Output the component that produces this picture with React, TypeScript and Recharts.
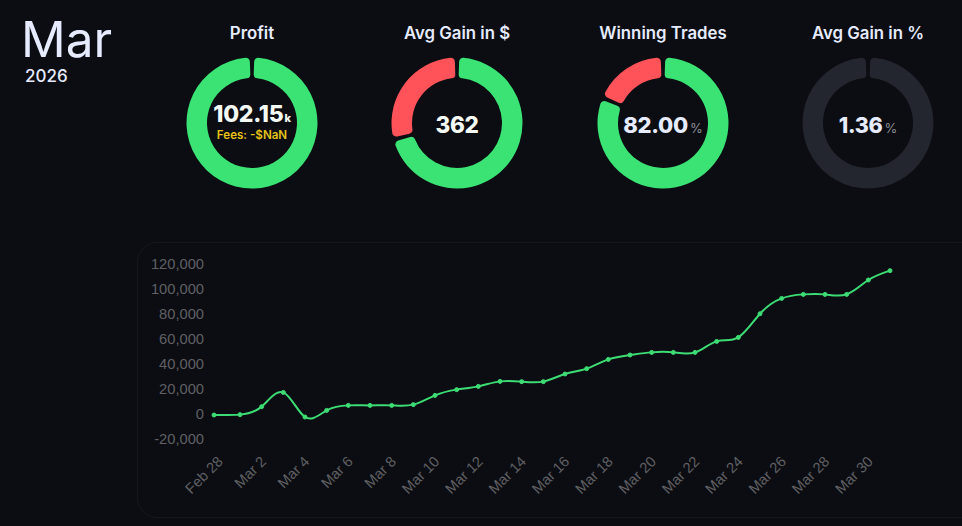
import { PieChart, Pie, Cell, LineChart, Line, XAxis, YAxis } from "recharts";

const GREEN = "#3ae374";
const RED = "#ff5359";
const MUTED = "#23252f";
const TEXT = "#e6ebff";
const AXIS = "#606064";

const dayLabels = [
  "Feb 28", "Mar 1", "Mar 2", "Mar 3", "Mar 4", "Mar 5", "Mar 6", "Mar 7",
  "Mar 8", "Mar 9", "Mar 10", "Mar 11", "Mar 12", "Mar 13", "Mar 14", "Mar 15",
  "Mar 16", "Mar 17", "Mar 18", "Mar 19", "Mar 20", "Mar 21", "Mar 22", "Mar 23",
  "Mar 24", "Mar 25", "Mar 26", "Mar 27", "Mar 28", "Mar 29", "Mar 30", "Mar 31",
];
// first sample sits a little before the Feb 28 tick
const dayOffsets = [
  -0.2, 1, 2, 3, 4, 5, 6, 7, 8, 9, 10, 11, 12, 13, 14, 15,
  16, 17, 18, 19, 20, 21, 22, 23, 24, 25, 26, 27, 28, 29, 30, 31,
];
const cumulative = [
  -800, -500, 5900, 17300, -2400, 2900, 6900, 6900, 6900, 7500, 14900, 19500,
  22100, 26100, 25900, 25900, 32000, 36300, 43700, 47200, 49300, 49300, 49300,
  58100, 61300, 80200, 92500, 95700, 95700, 95700, 107200, 114700,
];
const yTicks = [-20000, 0, 20000, 40000, 60000, 80000, 100000, 120000];
const xTicks = [0, 2, 4, 6, 8, 10, 12, 14, 16, 18, 20, 22, 24, 26, 28, 30];

const profitSplit = [100];
const avgGainSplit = [71.4, 28.6];
const winningSplit = [82, 18];
const avgPctSplit = [100];

const chartData = dayOffsets.map((day, i) => ({ day, value: cumulative[i] }));

function Donut({ title, left, values, colors, children }: any) {
  const rows = values.map((value: number) => ({ value }));
  // recharts drops paddingAngle on a single slice, so leave the gap by hand
  const endAngle = rows.length === 1 ? -268 : -272;
  return (
    <div style={{ position: "absolute", left: left - 100, top: 0, width: 200, height: 200 }}>
      <div
        style={{
          position: "absolute", top: 23, width: 200, textAlign: "center",
          fontSize: 16.8, fontWeight: 600, color: TEXT, lineHeight: "20px",
        }}
      >
        {title}
      </div>
      <div style={{ position: "absolute", left: 30, top: 53 }}>
        <PieChart width={140} height={140} margin={{ top: 0, right: 0, bottom: 0, left: 0 }}>
          <Pie
            data={rows}
            dataKey="value"
            cx={70}
            cy={70}
            innerRadius={45}
            outerRadius={65.5}
            startAngle={88}
            endAngle={endAngle}
            paddingAngle={4}
            cornerRadius={4}
            stroke="none"
            isAnimationActive={false}
          >
            {rows.map((_: any, i: number) => (
              <Cell key={i} fill={colors[i]} />
            ))}
          </Pie>
        </PieChart>
      </div>
      {children}
    </div>
  );
}

function Center({ value, unit, color, top = 111, size = 22.5 }: any) {
  return (
    <div
      style={{
        position: "absolute", top, width: 200, textAlign: "center", lineHeight: "28px",
        fontSize: size, letterSpacing: -0.3, fontWeight: 800, color, whiteSpace: "nowrap",
      }}
    >
      {value}
      {unit}
    </div>
  );
}

const percentUnit = (
  <span style={{ fontSize: 13, fontWeight: 400, letterSpacing: 0, marginLeft: 2, color: "#8b8d96" }}>%</span>
);

export default function App() {
  return (
    <div
      style={{
        position: "absolute", left: 0, top: 0, width: 962, height: 526, overflow: "hidden",
        background: "#0b0d12", fontFamily: "Inter, sans-serif",
      }}
    >
      <style>{`body{margin:0;background:#0b0d12}`}</style>

      <div style={{ position: "absolute", left: 21, top: 14, fontSize: 49.5, fontWeight: 400, lineHeight: "50px", color: TEXT }}>
        Mar
      </div>
      <div style={{ position: "absolute", left: 25, top: 65, fontSize: 17, fontWeight: 500, lineHeight: "22px", color: TEXT }}>
        2026
      </div>

      <Donut title="Profit" left={252} values={profitSplit} colors={[GREEN]}>
        <Center
          value="102.15"
          unit={<span style={{ fontSize: 11, marginLeft: 1, color: "#f4f9f4" }}>k</span>}
          color="#f4f9f4"
          top={100}
          size={23}
        />
        <div
          style={{
            position: "absolute", top: 128, width: 200, textAlign: "center",
            fontSize: 11.6, fontWeight: 600, lineHeight: "14px", color: "#e6c317",
          }}
        >
          Fees: -$NaN
        </div>
      </Donut>

      <Donut title="Avg Gain in $" left={457} values={avgGainSplit} colors={[GREEN, RED]}>
        <Center value="362" color="#f4f9f4" />
      </Donut>

      <Donut title="Winning Trades" left={663} values={winningSplit} colors={[GREEN, RED]}>
        <Center value="82.00" unit={percentUnit} color={TEXT} size={22} />
      </Donut>

      <Donut title="Avg Gain in %" left={868} values={avgPctSplit} colors={[MUTED]}>
        <Center value="1.36" unit={percentUnit} color={TEXT} size={21.5} />
      </Donut>

      <div
        style={{
          position: "absolute", left: 137, top: 242, width: 860, height: 276,
          border: "1px solid #16181d", borderRadius: 20, boxSizing: "border-box",
        }}
      />
      <div style={{ position: "absolute", left: 137, top: 242 }}>
        <LineChart
          width={825}
          height={276}
          data={chartData}
          margin={{ top: 22, right: 72, bottom: 0, left: 0 }}
        >
          <XAxis
            dataKey="day"
            type="number"
            domain={[-0.2, 31]}
            ticks={xTicks}
            interval={0}
            tickFormatter={(d: number) => dayLabels[d]}
            axisLine={false}
            tickLine={false}
            tickSize={0}
            tickMargin={16}
            angle={-45}
            textAnchor="end"
            height={79}
            tick={{ fill: AXIS, fontSize: 14.7, dx: -2, fontFamily: "'Liberation Sans', Arial, sans-serif" }}
          />
          <YAxis
            type="number"
            domain={[-20000, 120000]}
            ticks={yTicks}
            interval={0}
            tickFormatter={(v: number) => v.toLocaleString("en-US")}
            axisLine={false}
            tickLine={false}
            tickSize={0}
            tickMargin={10}
            width={77}
            tick={{ fill: AXIS, fontSize: 14.7, fontFamily: "'Liberation Sans', Arial, sans-serif" }}
          />
          <Line
            dataKey="value"
            type="natural"
            stroke="#3ddc74"
            strokeWidth={2}
            dot={{ r: 2, fill: "#3ddc74", stroke: "#3ddc74", strokeWidth: 1 }}
            isAnimationActive={false}
          />
        </LineChart>
      </div>
    </div>
  );
}
